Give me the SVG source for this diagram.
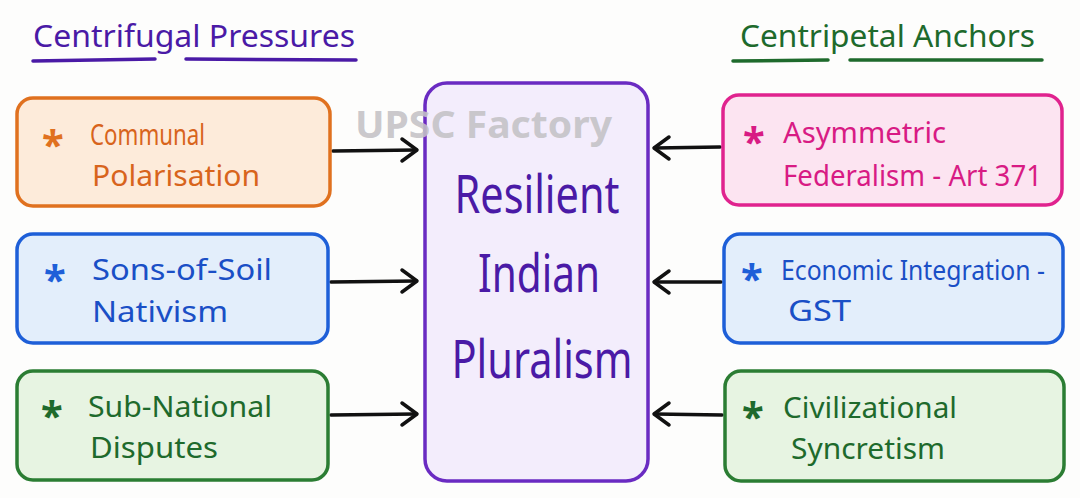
<svg xmlns="http://www.w3.org/2000/svg" width="1080" height="498" viewBox="0 0 1080 498">
<defs>
<style>
text{font-family:"Noto Sans","Liberation Sans",sans-serif;}
.box{stroke-width:3.5;}
.t{font-size:29px;}
.ast{font-size:40px;font-weight:bold;}
.title{font-size:31px;}
.ul{stroke-width:3.5;stroke-linecap:round;fill:none;}
.conn{stroke:#111;stroke-width:3.5;fill:none;stroke-linecap:round;}
.ah{stroke:#111;stroke-width:3.5;fill:none;stroke-linecap:round;stroke-linejoin:round;}
</style>
</defs>
<rect width="1080" height="498" fill="#FDFDFC"/>

<g id="title-left">
<text class="title" x="33" y="47" fill="#4A1AA6" textLength="322" lengthAdjust="spacingAndGlyphs">Centrifugal Pressures</text>
<path class="ul" stroke="#4A1AA6" d="M33 61 L155 59 M186 59 L356 60"/>
</g>
<g id="title-right">
<text class="title" x="740" y="47" fill="#1E6A2C" textLength="295" lengthAdjust="spacingAndGlyphs">Centripetal Anchors</text>
<path class="ul" stroke="#1E6A2C" d="M733 61 L828 60 M850 60 L1042 60"/>
</g>

<g id="connectors">
<path class="conn" d="M333 151 L416 150"/>
<path class="ah" d="M402 139 L417 150 L402 161"/>
<path class="conn" d="M331 282 L416 281"/>
<path class="ah" d="M402 270 L417 281 L402 292"/>
<path class="conn" d="M331 415 L416 414"/>
<path class="ah" d="M402 403 L417 414 L402 425"/>
<path class="conn" d="M720 147 L655 148"/>
<path class="ah" d="M669 137 L654 148 L669 159"/>
<path class="conn" d="M721 282 L655 282"/>
<path class="ah" d="M669 271 L654 282 L669 293"/>
<path class="conn" d="M722 415 L655 414"/>
<path class="ah" d="M669 403 L654 414 L669 425"/>
</g>

<g id="center">
<rect class="box" x="425" y="83" width="223" height="398" rx="22" fill="#F3EDFC" stroke="#6A2BC2"/>
<text x="537" y="213" font-size="52" fill="#4A1AA6" text-anchor="middle" textLength="165" lengthAdjust="spacingAndGlyphs">Resilient</text>
<text x="539" y="292" font-size="52" fill="#4A1AA6" text-anchor="middle" textLength="122" lengthAdjust="spacingAndGlyphs">Indian</text>
<text x="542" y="378" font-size="52" fill="#4A1AA6" text-anchor="middle" textLength="181" lengthAdjust="spacingAndGlyphs">Pluralism</text>
</g>

<g id="watermark">
<text x="355" y="138" font-size="38" font-weight="bold" fill="#C4C2C6" fill-opacity="0.9" textLength="257" lengthAdjust="spacingAndGlyphs" font-family="Open Sans, Liberation Sans, sans-serif">UPSC Factory</text>
</g>

<g id="n-communal">
<rect class="box" x="17" y="98" width="313" height="108" rx="16" fill="#FDEBDA" stroke="#E0711F"/>
<text class="ast" x="42" y="159" fill="#E0711F">*</text>
<text class="t" x="90" y="145" fill="#D8641C" textLength="115" lengthAdjust="spacingAndGlyphs">Communal</text>
<text class="t" x="92" y="186" fill="#D8641C" textLength="168" lengthAdjust="spacingAndGlyphs">Polarisation</text>
</g>

<g id="n-sons">
<rect class="box" x="17" y="234" width="311" height="109" rx="16" fill="#E3EEFB" stroke="#1E5FD8"/>
<text class="ast" x="44" y="294" fill="#1E5FD8">*</text>
<text class="t" x="92" y="280" fill="#1A4FC6" textLength="180" lengthAdjust="spacingAndGlyphs">Sons-of-Soil</text>
<text class="t" x="92" y="322" fill="#1A4FC6" textLength="136" lengthAdjust="spacingAndGlyphs">Nativism</text>
</g>

<g id="n-subnational">
<rect class="box" x="17" y="371" width="311" height="109" rx="16" fill="#E7F4E2" stroke="#2B7D33"/>
<text class="ast" x="41" y="430" fill="#1E6A2C">*</text>
<text class="t" x="88" y="417" fill="#1E6A2C" textLength="184" lengthAdjust="spacingAndGlyphs">Sub-National</text>
<text class="t" x="90" y="458" fill="#1E6A2C" textLength="128" lengthAdjust="spacingAndGlyphs">Disputes</text>
</g>

<g id="n-asymmetric">
<rect class="box" x="723" y="95" width="339" height="110" rx="16" fill="#FCE4F1" stroke="#E0238E"/>
<text class="ast" x="743" y="156" fill="#D81B84">*</text>
<text class="t" x="783" y="143" fill="#D81B84" textLength="163" lengthAdjust="spacingAndGlyphs">Asymmetric</text>
<text class="t" x="783" y="186" fill="#D81B84" textLength="259" lengthAdjust="spacingAndGlyphs">Federalism - Art 371</text>
</g>

<g id="n-economic">
<rect class="box" x="724" y="234" width="339" height="109" rx="16" fill="#E3EEFB" stroke="#1E5FD8"/>
<text class="ast" x="741" y="293" fill="#1E5FD8">*</text>
<text x="781" y="280" font-size="27" fill="#1A4FC6" textLength="264" lengthAdjust="spacingAndGlyphs">Economic Integration -</text>
<text class="t" x="788" y="321" fill="#1A4FC6" textLength="63" lengthAdjust="spacingAndGlyphs">GST</text>
</g>

<g id="n-civilizational">
<rect class="box" x="725" y="371" width="339" height="110" rx="16" fill="#E7F4E2" stroke="#2B7D33"/>
<text class="ast" x="742" y="431" fill="#1E6A2C">*</text>
<text class="t" x="783" y="418" fill="#1E6A2C" textLength="174" lengthAdjust="spacingAndGlyphs">Civilizational</text>
<text class="t" x="791" y="459" fill="#1E6A2C" textLength="154" lengthAdjust="spacingAndGlyphs">Syncretism</text>
</g>
</svg>
